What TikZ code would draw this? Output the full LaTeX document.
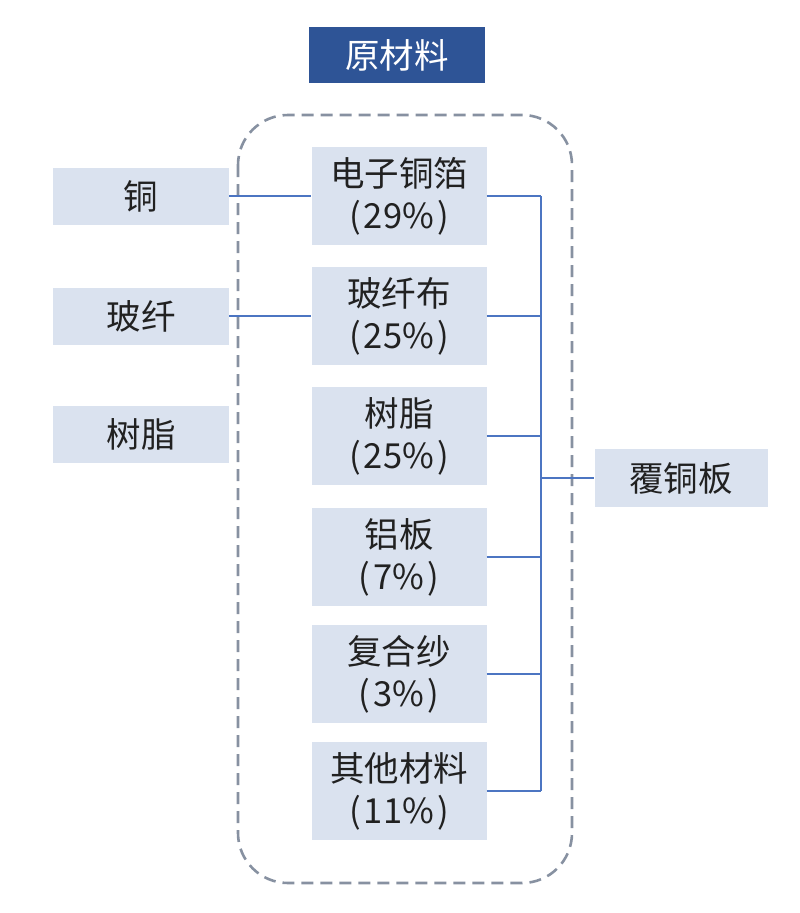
\documentclass[tikz,border=0pt]{standalone}
\usepackage{fontspec}
\setmainfont{Noto Sans CJK SC}
\definecolor{TitleBlue}{rgb}{0.18,0.33,0.59}
\definecolor{BoxFill}{rgb}{0.855,0.886,0.937}
\definecolor{LineBlue}{rgb}{0.30,0.46,0.76}
\definecolor{DashGrey}{rgb}{0.53,0.57,0.63}
\definecolor{TextGrey}{rgb}{0.13,0.13,0.13}
\usetikzlibrary{positioning}
\newcommand{\pct}[1]{(\kern3pt#1\%\kern3pt)}

\begin{document}
\begin{tikzpicture}[x=1pt,y=-1pt,
    matbox/.style={fill=BoxFill,inner sep=0pt,text=TextGrey,align=center,
        font=\fontsize{34.5}{42}\selectfont},
    conn/.style={draw=LineBlue,line width=1.4pt}]

    \useasboundingbox (0,0) rectangle (800,913);

    % title
    \node[fill=TitleBlue,text=white,minimum width=176pt,minimum height=56pt,
        font=\fontsize{34.5}{40}\selectfont] (title) at (397,55) {原材料};

    % dashed frame
    \draw[DashGrey,line width=2.6pt,dash pattern=on 12pt off 7pt,rounded corners=50pt]
        (238,115) rectangle (572,883);

    % left boxes
    \node[matbox,minimum width=176pt,minimum height=57pt] (cu) at (141,196) {铜};
    \node[matbox,minimum width=176pt,minimum height=57pt] (gf) at (141,316) {玻纤};
    \node[matbox,minimum width=176pt,minimum height=57pt] (resin) at (141,434) {树脂};

    % middle boxes
    \node[matbox,minimum width=175pt,minimum height=98pt] (foil) at (399,196) {电子铜箔\\\pct{29}};
    \node[matbox,minimum width=175pt,minimum height=98pt] (cloth) at (399,316) {玻纤布\\\pct{25}};
    \node[matbox,minimum width=175pt,minimum height=98pt] (epoxy) at (399,436) {树脂\\\pct{25}};
    \node[matbox,minimum width=175pt,minimum height=98pt] (alu) at (399,557) {铝板\\\pct{7}};
    \node[matbox,minimum width=175pt,minimum height=98pt] (yarn) at (399,674) {复合纱\\\pct{3}};
    \node[matbox,minimum width=175pt,minimum height=98pt] (other) at (399,791) {其他材料\\\pct{11}};

    % right box
    \node[matbox,minimum width=173pt,minimum height=58pt] (ccl) at (681,478) {覆铜板};

    \coordinate (bus) at (541,478);

    % connectors
    \draw[conn] (cu.east) -- (foil.west);
    \draw[conn] (gf.east) -- (cloth.west);
    \draw[conn] (foil.east) -- (foil.east -| bus);
    \draw[conn] (cloth.east) -- (cloth.east -| bus);
    \draw[conn] (epoxy.east) -- (epoxy.east -| bus);
    \draw[conn] (alu.east) -- (alu.east -| bus);
    \draw[conn] (yarn.east) -- (yarn.east -| bus);
    \draw[conn] (other.east) -- (other.east -| bus);
    \draw[conn] (foil.east -| bus) -- (other.east -| bus);
    \draw[conn] (bus) -- (ccl.west);

\end{tikzpicture}
\end{document}
